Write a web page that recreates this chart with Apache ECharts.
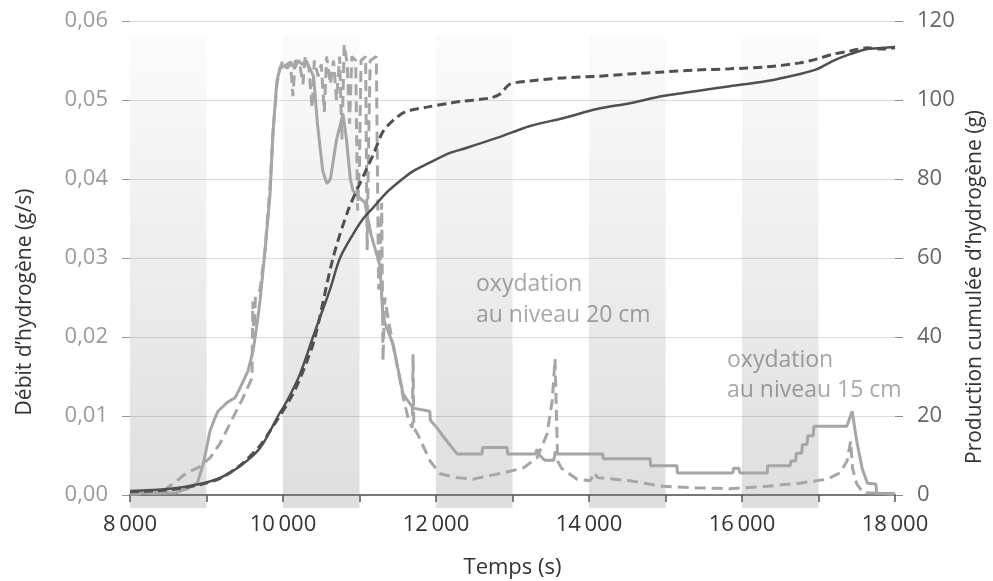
<!DOCTYPE html>
<html>
<head>
<meta charset="utf-8">
<script src="https://cdn.jsdelivr.net/npm/echarts@6/dist/echarts.min.js"></script>
<style>html,body{margin:0;padding:0;background:#fff;}#c{width:993px;height:581px;}</style>
</head>
<body>
<div id="c"></div>
<script>
// ---- data ----
const bandStarts = [8000, 10000, 12000, 14000, 16000];
const bandWidth = 1000;

// Débit d'hydrogène, courbe pleine (g/s)
const flowSolidT = [8000,8300,8600,8750,8880,8960,9046,9100,9150,9268,9373,9440,9543,9608,9660,9700,9765,9830,9870,9920,9960,10050,10100,10150,10200,10250,10300,10350,10400,10450,10520,10575,10620,10700,10784,10830,10880,10915,10960,11070,11150,11268,11307,11438,11569,11634,11700,11920,11925,12013,12080,12144,12210,12275,12600,12610,12930,12935,13300,13320,13340,13420,13540,13560,13580,14180,14185,14800,14805,15150,15155,15880,15890,15960,15970,16330,16335,16630,16640,16700,16710,16780,16790,16850,16860,16930,16940,17370,17440,17500,17570,17640,17750,17760,18000];
const flowSolidV = [0.0003,0.0002,0.0003,0.0008,0.0015,0.004,0.0081,0.0095,0.0106,0.0117,0.0123,0.0136,0.0157,0.0182,0.0216,0.0246,0.0309,0.038,0.046,0.0524,0.054,0.0545,0.0548,0.054,0.055,0.0545,0.055,0.054,0.053,0.047,0.041,0.0394,0.040,0.045,0.0482,0.045,0.040,0.0385,0.038,0.037,0.033,0.029,0.0224,0.0191,0.0128,0.0119,0.011,0.0106,0.0095,0.0085,0.0076,0.0068,0.006,0.0052,0.0052,0.006,0.006,0.0052,0.0052,0.0058,0.0052,0.0044,0.0044,0.0055,0.0052,0.0052,0.0046,0.0046,0.0037,0.0037,0.0028,0.0028,0.0034,0.0034,0.0028,0.0028,0.0037,0.0037,0.0043,0.0043,0.0053,0.0053,0.0064,0.0064,0.0075,0.0075,0.0087,0.0087,0.0106,0.0068,0.0034,0.0015,0.0014,0.0002,0.0002];

// Débit d'hydrogène, courbe tiretée (g/s)
const flowDashT = [8000,8400,8614,8700,8784,8900,9046,9176,9346,9477,9595,9605,9620,9640,9700,9765,9830,9870,9920,9960,10000,10050,10100,10130,10160,10220,10260,10290,10340,10380,10410,10460,10500,10540,10570,10620,10660,10700,10740,10770,10800,10840,10870,10900,10950,10975,11000,11020,11080,11100,11120,11140,11220,11250,11270,11290,11307,11330,11380,11438,11500,11569,11640,11690,11700,11710,11760,11922,12052,12275,12484,12667,12876,13137,13320,13451,13520,13556,13590,13640,13843,14013,14078,14110,14536,14967,15412,15843,16327,16758,17111,17281,17373,17420,17445,17500,17580,18000];
const flowDashV = [0.0001,0.0003,0.0018,0.0025,0.003,0.0035,0.0047,0.0065,0.0098,0.0123,0.0148,0.0245,0.02,0.025,0.026,0.031,0.039,0.046,0.052,0.054,0.055,0.054,0.0545,0.0505,0.055,0.0545,0.052,0.0555,0.054,0.049,0.055,0.053,0.0545,0.0485,0.0555,0.052,0.055,0.050,0.0555,0.045,0.057,0.0545,0.047,0.0555,0.055,0.036,0.042,0.055,0.0555,0.031,0.045,0.055,0.0555,0.026,0.030,0.037,0.017,0.025,0.022,0.019,0.016,0.0125,0.0095,0.0085,0.0178,0.0085,0.0077,0.0043,0.0027,0.0022,0.002,0.0024,0.0028,0.0034,0.0047,0.0077,0.012,0.0172,0.0043,0.0034,0.002,0.0018,0.0028,0.0022,0.0018,0.0011,0.0009,0.0008,0.0011,0.0015,0.002,0.0028,0.0043,0.0068,0.0034,0.0014,0.0003,0.0001];

// Production cumulée, courbe pleine (g)
const cumSolidT = [8000,8500,8915,9176,9438,9700,9935,10052,10222,10392,10484,10614,10745,10915,11050,11176,11350,11529,11700,11882,12183,12353,12797,13229,13660,14105,14536,14967,15412,15843,16327,16758,16980,17190,17412,17634,17843,18000];
const cumSolidV = [1.0,1.5,2.8,4.3,7.3,11.9,20,23.8,30.6,40,45,52,60,66,70,72.7,76.5,79.5,82,83.8,86.6,87.6,90.4,93.4,95.4,97.7,99.2,101,102.3,103.5,104.8,106.6,107.8,109.9,111.6,112.9,113.2,113.5];

// Production cumulée, courbe tiretée (g)
const cumDashT = [8000,8500,8915,9176,9438,9700,9830,10131,10314,10420,10654,10850,11032,11176,11307,11450,11600,11882,12183,12353,12706,12837,12967,13229,13660,14105,14536,14967,15412,15843,16327,16758,16980,17190,17412,17634,17843,18000];
const cumDashV = [0.8,1.3,2.6,4.2,7.5,12.5,16.2,25.6,33.9,40,60,72,80,86,92,95,97,98.2,99.2,99.7,100.5,101.5,104,104.8,105.6,106,106.6,107.1,107.6,107.9,108.4,109.4,110.4,111.6,112.4,113.2,112.9,113.2];

const zip = (t, v) => t.map((x, i) => [x, v[i]]);

const FONT = '"Open Sans", "Noto Sans", sans-serif';
const DARK = '#505050';
const LIGHT = '#a6a6a6';

const chart = echarts.init(document.getElementById('c'), null, {renderer: 'canvas'});

const option = {
  backgroundColor: '#ffffff',
  animation: false,
  grid: {left: 130, right: 98, top: 21, bottom: 86, outerBoundsMode: 'none', containLabel: false},
  xAxis: [{
    type: 'value', min: 8000, max: 18000, interval: 1000,
    name: 'Temps (s)', nameLocation: 'middle', nameGap: 62,
    nameTextStyle: {color: '#333', fontSize: 22, fontFamily: FONT},
    axisLine: {show: true, onZero: false, lineStyle: {color: '#555', width: 2}},
    axisTick: {show: true, length: 7, lineStyle: {color: '#555', width: 1.5}},
    axisLabel: {color: '#333', fontSize: 22, fontFamily: FONT, margin: 19,
      formatter: v => (v % 2000 === 0 ? (v / 1000) + '\u2009000' : '')},
    splitLine: {show: false}
  }, {
    type: 'value', min: 8000, max: 18000, position: 'top',
    axisLine: {show: true, lineStyle: {color: '#777', width: 2}},
    axisTick: {show: false}, axisLabel: {show: false}, splitLine: {show: false}
  }],
  yAxis: [{
    type: 'value', min: 0, max: 0.06, interval: 0.01, position: 'left',
    axisLine: {show: false},
    axisTick: {show: true, length: 8, lineStyle: {color: '#999'}},
    axisLabel: {color: '#9a9a9a', fontSize: 22, fontFamily: FONT, margin: 22,
      formatter: v => v.toFixed(2).replace('.', ',')},
    splitLine: {show: true, lineStyle: {color: '#dcdcdc', width: 1}}
  }, {
    type: 'value', min: 0, max: 120, interval: 20, position: 'right',
    axisLine: {show: false},
    axisTick: {show: true, length: 8, lineStyle: {color: '#888'}},
    axisLabel: {color: '#666', fontSize: 22, fontFamily: FONT, margin: 22},
    splitLine: {show: false}
  }],
  graphic: [
    {type: 'text', x: 25, y: 302, rotation: Math.PI / 2,
      style: {text: 'Débit d’hydrogène (g/s)', fill: '#333', font: '21px ' + FONT, align: 'center', verticalAlign: 'middle'}},
    {type: 'text', x: 975, y: 287, rotation: Math.PI / 2,
      style: {text: 'Production cumulée d’hydrogène (g)', fill: '#333', font: '21px ' + FONT, align: 'center', verticalAlign: 'middle'}},
    {type: 'text', left: 476, top: 269, style: {text: 'oxydation\nau niveau 20 cm', fill: '#a8a8a8', font: '23px ' + FONT, lineHeight: 31}},
    {type: 'text', left: 727, top: 345, style: {text: 'oxydation\nau niveau 15 cm', fill: '#a8a8a8', font: '23px ' + FONT, lineHeight: 30}}
  ],
  series: [
    {
      type: 'custom', name: 'bands', clip: false, z: 0, silent: true,
      data: bandStarts.map(s => [s, s + bandWidth]),
      renderItem: (params, api) => {
        const p0 = api.coord([api.value(0), 0.0581]);
        const p1 = api.coord([api.value(1), 0]);
        return {
          type: 'rect',
          shape: {x: p0[0], y: p0[1], width: p1[0] - p0[0], height: p1[1] + 13 - p0[1]},
          style: {fill: new echarts.graphic.LinearGradient(0, 0, 0, 1, [
            {offset: 0, color: 'rgba(0,0,0,0.015)'},
            {offset: 1, color: 'rgba(0,0,0,0.13)'}
          ])}
        };
      }
    },
    {
      type: 'line', name: 'flowSolid', yAxisIndex: 0, showSymbol: false, z: 3,
      data: zip(flowSolidT, flowSolidV),
      lineStyle: {color: LIGHT, width: 3}
    },
    {
      type: 'line', name: 'flowDash', yAxisIndex: 0, showSymbol: false, z: 3,
      data: zip(flowDashT, flowDashV),
      lineStyle: {color: LIGHT, width: 3, type: [11, 6]}
    },
    {
      type: 'line', name: 'cumSolid', yAxisIndex: 1, showSymbol: false, smooth: 0.3, z: 4,
      data: zip(cumSolidT, cumSolidV),
      lineStyle: {color: DARK, width: 2.5}
    },
    {
      type: 'line', name: 'cumDash', yAxisIndex: 1, showSymbol: false, smooth: 0.3, z: 4,
      data: zip(cumDashT, cumDashV),
      lineStyle: {color: DARK, width: 3, type: [9, 5]}
    }
  ]
};
chart.setOption(option);
</script>
</body>
</html>
